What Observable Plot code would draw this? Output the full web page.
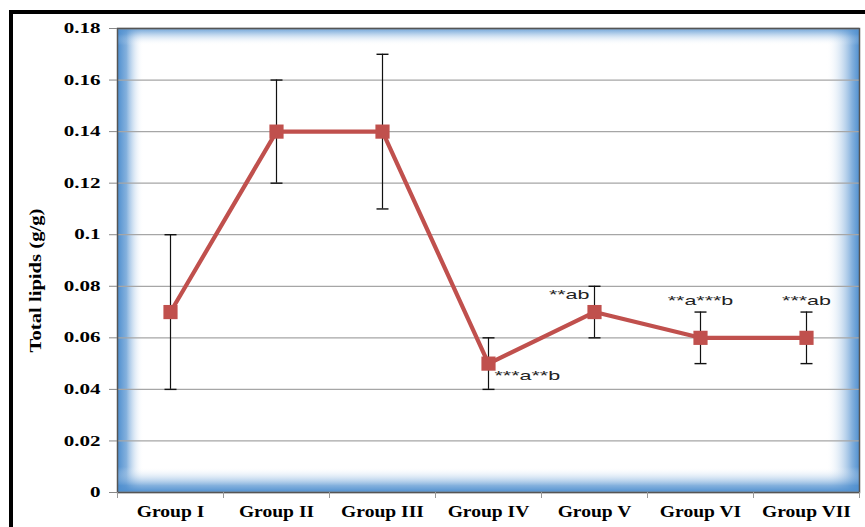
<!DOCTYPE html>
<html>
<head>
<meta charset="utf-8">
<script src="https://cdn.jsdelivr.net/npm/d3@7"></script>
<script src="https://cdn.jsdelivr.net/npm/@observablehq/plot@0.6"></script>
<style>
  html, body { margin: 0; padding: 0; background: #fff; overflow: hidden; }
  #wrap { position: relative; width: 865px; height: 527px; }
  #border { position: absolute; left: 9px; top: 10px; width: 900px; height: 600px;
            border-top: 4px solid #000; border-left: 4px solid #000; }
  #chart { position: absolute; left: 0; top: 0; }
</style>
</head>
<body>
<div id="wrap"><div id="border"></div><div id="chart"></div></div>
<script>
const groups = ["Group I", "Group II", "Group III", "Group IV", "Group V", "Group VI", "Group VII"];
const means  = [0.07, 0.14, 0.14, 0.05, 0.07, 0.06, 0.06];
const errs   = [0.03, 0.02, 0.03, 0.01, 0.01, 0.01, 0.01];
const yTicks = [0, 0.02, 0.04, 0.06, 0.08, 0.1, 0.12, 0.14, 0.16, 0.18];
const notes  = ["", "", "", "***a**b", "**ab", "**a***b", "***ab"];
const yLabel = "Total lipids (g/g)";

const data = groups.map((g, i) => ({
  g, i, x: i + 0.5, y: means[i], lo: means[i] - errs[i], hi: means[i] + errs[i], note: notes[i]
}));

const capSymbol = {
  draw(context, size) {
    const w = 6;
    context.moveTo(-w, 0);
    context.lineTo(w, 0);
  }
};

const defsMark = () => {
  const g = d3.create("svg:g");
  const defs = g.append("defs");
  const blue = "#4f8fcf";
  const mk = (id, x1, y1, x2, y2, stops) => {
    const lg = defs.append("linearGradient").attr("id", id)
      .attr("x1", x1).attr("y1", y1).attr("x2", x2).attr("y2", y2);
    stops.forEach(([o, c, op]) => lg.append("stop").attr("offset", o).attr("stop-color", c).attr("stop-opacity", op));
  };
  mk("gL", 0, 0, 1, 0, [[0, blue, 1], [0.012, blue, 0.7], [0.035, "#ffffff", 0]]);
  mk("gR", 0, 0, 1, 0, [[0.955, "#ffffff", 0], [0.99, blue, 0.7], [1, blue, 1]]);
  mk("gT", 0, 0, 0, 1, [[0, blue, 0.8], [0.012, blue, 0.4], [0.036, "#ffffff", 0]]);
  mk("gB", 0, 0, 0, 1, [[0.945, "#ffffff", 0], [0.985, blue, 0.7], [1, blue, 1]]);
  return g.node();
};

const fmt = d => String(+d.toFixed(2));

const plot = Plot.plot({
  width: 865,
  height: 527,
  marginLeft: 117,
  marginRight: 6,
  marginTop: 28,
  marginBottom: 35,
  style: { background: "transparent", overflow: "visible" },
  x: { type: "linear", domain: [0, 7] },
  y: { type: "linear", domain: [0, 0.18] },
  marks: [
    defsMark,
    Plot.frame({ fill: "#ffffff" }),
    Plot.frame({ fill: "url(#gL)" }),
    Plot.frame({ fill: "url(#gR)" }),
    Plot.frame({ fill: "url(#gT)" }),
    Plot.frame({ fill: "url(#gB)" }),
    Plot.gridY(yTicks, { stroke: "#a6a6a6", strokeOpacity: 1, strokeWidth: 1.3 }),
    Plot.frame({ stroke: "#555", strokeWidth: 1.5 }),
    Plot.axisY({
      ticks: yTicks, tickFormat: fmt, tickSize: 8, tickPadding: 9,
      fontSize: 14.5, fontWeight: "bold", fontFamily: "Liberation Serif",
      stroke: "#888", label: null
    }),
    Plot.axisX({
      ticks: d3.range(0, 8), tickSize: 6, tickFormat: () => "", stroke: "#999", label: null
    }),
    Plot.axisX({
      ticks: data.map(d => d.x), tickFormat: (d, k) => groups[k], tickSize: 0, tickPadding: 12,
      fontSize: 17, fontWeight: "bold", fontFamily: "Liberation Serif", label: null
    }),
    Plot.text([yLabel], {
      frameAnchor: "left", text: d => d, rotate: -90, textAnchor: "middle", dx: -82, dy: 20,
      fontSize: 17.5, fontWeight: "bold", fontFamily: "Liberation Serif", fill: "#000"
    }),
    Plot.ruleX(data, { x: "x", y1: "lo", y2: "hi", stroke: "#111", strokeWidth: 1.2 }),
    Plot.dot(data, { x: "x", y: "lo", symbol: capSymbol, stroke: "#111", strokeWidth: 1.4, r: 5 }),
    Plot.dot(data, { x: "x", y: "hi", symbol: capSymbol, stroke: "#111", strokeWidth: 1.4, r: 5 }),
    Plot.line(data, { x: "x", y: "y", stroke: "#c0504d", strokeWidth: 4.2 }),
    Plot.dot(data, { x: "x", y: "y", symbol: "square", fill: "#c0504d", stroke: "none", r: 8 }),
    Plot.text(data.filter(d => d.i === 3), {
      x: "x", y: "y", text: "note", textAnchor: "start", dx: 6, dy: 12,
      fontSize: 13, fontFamily: "Liberation Sans", fill: "#222"
    }),
    Plot.text(data.filter(d => d.i === 4), {
      x: "x", y: "y", text: "note", textAnchor: "end", dx: -5, dy: -17,
      fontSize: 13, fontFamily: "Liberation Sans", fill: "#222"
    }),
    Plot.text(data.filter(d => d.i >= 5), {
      x: "x", y: "hi", text: "note", textAnchor: "middle", dy: -11,
      fontSize: 13, fontFamily: "Liberation Sans", fill: "#222"
    })
  ]
});

document.getElementById("chart").appendChild(plot);

// Stretch text horizontally to mimic the reference's wide glyphs
function stretchSel(sel, f) {
  sel.each(function () {
    const len = this.getComputedTextLength();
    if (len > 0) {
      this.setAttribute("textLength", (len * f).toFixed(1));
      this.setAttribute("lengthAdjust", "spacingAndGlyphs");
    }
  });
}
const root = d3.select(plot);
stretchSel(root.selectAll('g[aria-label="y-axis tick label"] text'), 1.45);
stretchSel(root.selectAll('g[aria-label="x-axis tick label"] text'), 1.15);
const textGroups = root.selectAll('g[aria-label="text"]').nodes();
textGroups.forEach((g, k) => {
  stretchSel(d3.select(g).selectAll("text"), k === 0 ? 1.18 : 1.65);
});
</script>
</body>
</html>
